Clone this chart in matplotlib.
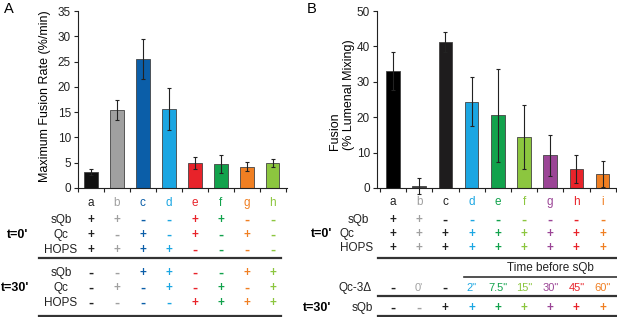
import matplotlib
matplotlib.use("Agg")
import matplotlib.pyplot as plt
from matplotlib.transforms import blended_transform_factory
import numpy as np

plt.rcParams['font.family'] = ['Liberation Sans', 'DejaVu Sans']

# ---- panel A data ----
cats_a = ['a', 'b', 'c', 'd', 'e', 'f', 'g', 'h']
rate = [3.2, 15.5, 25.5, 15.6, 5.0, 4.7, 4.2, 4.9]
rate_err = [0.6, 2.0, 4.0, 4.2, 1.2, 1.8, 0.9, 0.8]
bar_col_a = ['#111111', '#a0a0a0', '#0b5ea8', '#1ba6e2', '#e8232a', '#12a24c', '#f07f22', '#8cc63f']
txt_col_a = ['#222222', '#a0a0a0', '#0b5ea8', '#1ba6e2', '#e8232a', '#12a24c', '#f07f22', '#8cc63f']
a_t0 = {'sQb':  '++--++--',
        'Qc':   '+-+-+-+-',
        'HOPS': '++++----'}
a_t30 = {'sQb':  '--++--++',
         'Qc':   '-+-+-+-+',
         'HOPS': '----++++'}

# ---- panel B data ----
cats_b = ['a', 'b', 'c', 'd', 'e', 'f', 'g', 'h', 'i']
fusion = [33.1, 0.6, 41.2, 24.4, 20.5, 14.4, 9.2, 5.3, 4.0]
fusion_err = [5.4, 2.3, 2.8, 6.9, 13.1, 9.1, 5.7, 3.9, 3.6]
bar_col_b = ['#000000', '#444444', '#1e1c1d', '#1ba6e2', '#12a24c', '#8cc63f', '#9b4596', '#e8232a', '#f07f22']
txt_col_b = ['#222222', '#a0a0a0', '#222222', '#1ba6e2', '#12a24c', '#8cc63f', '#9b4596', '#e8232a', '#f07f22']
b_t0 = {'sQb':  '++-------',
        'Qc':   '+++++++++',
        'HOPS': '+++++++++'}
qc3d = ['-', "0'", '-', '2"', '7.5"', '15"', '30"', '45"', '60"']
b_t30_sqb = '--+++++++'

W, H = 617, 317
fig = plt.figure(figsize=(W / 100, H / 100), dpi=100)

def px_axes(x0, y0, x1, y1):
    return fig.add_axes([x0 / W, 1 - y1 / H, (x1 - x0) / W, (y1 - y0) / H])

ax_a = px_axes(78, 11, 287, 188)
ax_b = px_axes(377, 11, 616, 188)

ov = fig.add_axes([0, 0, 1, 1], zorder=-1)
ov.set_xlim(0, W)
ov.set_ylim(H, 0)
ov.axis('off')


def style(ax, n, xlim, ymax, step):
    x = np.arange(n)
    ax.set_xlim(*xlim)
    ax.set_ylim(0, ymax)
    ax.set_yticks(np.arange(0, ymax + 1, step))
    ax.set_xticks(np.arange(n + 1) - 0.5)
    ax.set_xticklabels([])
    for s in ['top', 'right']:
        ax.spines[s].set_visible(False)
    for s in ['left', 'bottom']:
        ax.spines[s].set_linewidth(0.8)
        ax.spines[s].set_color('#222222')
    ax.tick_params(axis='y', labelsize=8.5, length=3, width=0.8, pad=2, colors='#222222')
    ax.tick_params(axis='x', length=3, width=0.8, colors='#222222')
    return x


xa = style(ax_a, len(cats_a), (-0.46, 7.55), 35, 5)
ax_a.bar(xa, rate, width=0.52, color=bar_col_a, edgecolor='#444444', linewidth=0.6)
ax_a.errorbar(xa, rate, yerr=rate_err, fmt='none', ecolor='#222222', elinewidth=0.8, capsize=1.5, capthick=0.8)

xb = style(ax_b, len(cats_b), (-0.61, 8.51), 50, 10)
ax_b.bar(xb, fusion, width=0.52, color=bar_col_b, edgecolor='#444444', linewidth=0.6)
ax_b.errorbar(xb, fusion, yerr=fusion_err, fmt='none', ecolor='#222222', elinewidth=0.8, capsize=1.5, capthick=0.8,
              clip_on=False)

# axis labels and panel letters
ov.text(45, 96, 'Maximum Fusion Rate (%/min)', rotation=90, ha='center', va='center', fontsize=9)
ov.text(342, 150, 'Fusion\n(% Lumenal Mixing)', rotation=90, ha='center', va='bottom', fontsize=9,
        multialignment='left', linespacing=1.2)
ov.text(4, 9, 'A', fontsize=10.5, va='center')
ov.text(307, 9, 'B', fontsize=10.5, va='center')

tr_a = blended_transform_factory(ax_a.transData, ov.transData)
tr_b = blended_transform_factory(ax_b.transData, ov.transData)


def cell(tr, x, y, s, color):
    # plus / minus signs drawn bold, other entries plain
    if s in ('-', '+'):
        ov.text(x, y, s, transform=tr, ha='center', va='center', fontsize=11 if s == '-' else 8.5,
                color=color, fontweight='bold')
    else:
        ov.text(x, y, s, transform=tr, ha='center', va='center', fontsize=8, color=color)


# ---- table A ----
for i, c in enumerate(cats_a):
    ov.text(i, 203, c, transform=tr_a, ha='center', va='center', fontsize=8.5, color=txt_col_a[i])
for rows, ys in ((a_t0, (220, 235, 250)), (a_t30, (273, 288, 303))):
    for (name, vals), y in zip(rows.items(), ys):
        ov.text(61, y, name, ha='center', va='center', fontsize=8.5, color='#222222')
        for i, v in enumerate(vals):
            cell(tr_a, i, y, v, txt_col_a[i])
ov.text(18, 235, "t=0'", ha='center', va='center', fontsize=9, fontweight='bold')
ov.text(15, 288, "t=30'", ha='center', va='center', fontsize=9, fontweight='bold')
ov.plot([39, 281], [258, 258], color='#333333', lw=1.6)
ov.plot([39, 281], [316, 316], color='#333333', lw=1.6)

# ---- table B ----
for i, c in enumerate(cats_b):
    ov.text(i, 202, c, transform=tr_b, ha='center', va='center', fontsize=8.5, color=txt_col_b[i])
for (name, vals), y, xl in zip(b_t0.items(), (220, 234, 248), (358, 347, 357)):
    ov.text(xl, y, name, ha='center', va='center', fontsize=8.5, color='#222222')
    for i, v in enumerate(vals):
        cell(tr_b, i, y, v, txt_col_b[i])
ov.text(322, 234, "t=0'", ha='center', va='center', fontsize=9, fontweight='bold')
ov.plot([378, 617], [258, 258], color='#333333', lw=1.6)
ov.text(550, 268, 'Time before sQb', ha='center', va='center', fontsize=8.5, color='#222222')
ov.plot([464, 617], [277, 277], color='#333333', lw=1.2)
ov.text(355, 288, 'Qc-3\u0394', ha='center', va='center', fontsize=8.5, color='#222222')
for i, v in enumerate(qc3d):
    cell(tr_b, i, 288, v, txt_col_b[i])
ov.plot([378, 617], [296, 296], color='#333333', lw=1.6)
ov.text(317, 308, "t=30'", ha='center', va='center', fontsize=9, fontweight='bold')
ov.text(362, 308, 'sQb', ha='center', va='center', fontsize=8.5, color='#222222')
for i, v in enumerate(b_t30_sqb):
    cell(tr_b, i, 308, v, txt_col_b[i])
ov.plot([378, 617], [316, 316], color='#333333', lw=1.6)

fig.savefig('out.png', dpi=100)
